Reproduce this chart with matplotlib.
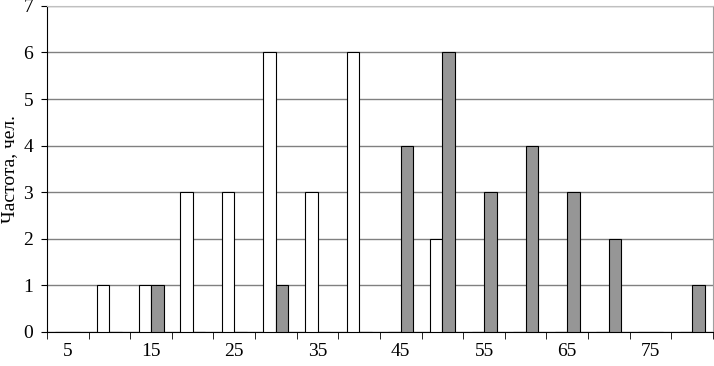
import matplotlib.pyplot as plt
import numpy as np

plt.rcParams['font.family'] = ['Liberation Serif', 'DejaVu Serif']

# возрастные группы и частоты
ages = [5, 10, 15, 20, 25, 30, 35, 40, 45, 50, 55, 60, 65, 70, 75, 80]
white_counts = [0, 1, 1, 3, 3, 6, 3, 6, 0, 2, 0, 0, 0, 0, 0, 0]
gray_counts = [0, 0, 1, 0, 0, 1, 0, 0, 4, 6, 3, 4, 3, 2, 0, 1]
tick_labels = ['5', '15', '25', '35', '45', '55', '65', '75']

fig = plt.figure(figsize=(7.14, 3.66), dpi=100)
ax = fig.add_axes([0.0658, 0.093, 0.9328, 0.891])

x = np.arange(len(ages))
w = 0.3
ax.bar(x - w / 2, white_counts, w, color='white', edgecolor='black', linewidth=0.8, zorder=3)
ax.bar(x + w / 2, gray_counts, w, color='#969696', edgecolor='black', linewidth=0.8, zorder=3)

ax.set_xlim(-0.5, len(ages) - 0.5)
ax.set_ylim(0, 7)
ax.set_yticks(range(8))
ax.yaxis.grid(True, color='#808080', linewidth=1, zorder=0)

# подписи только для нечетных групп, деления между категориями
ax.set_xticks(x[::2])
ax.set_xticklabels(tick_labels)
ax.set_xticks(np.arange(-0.5, len(ages)), minor=True)
ax.tick_params(axis='x', which='major', length=0, pad=8, labelsize=14)
ax.tick_params(axis='x', which='minor', length=5, color='black', direction='out')
ax.tick_params(axis='y', length=4, color='black', labelsize=14, pad=6)

ax.spines['left'].set_color('black')
ax.spines['bottom'].set_color('black')
ax.spines['top'].set_color('#c0c0c0')
ax.spines['right'].set_color('#a0a0a0')

ax.set_ylabel('Частота, чел.', fontsize=14, labelpad=4)

fig.savefig('out.png', dpi=100)
